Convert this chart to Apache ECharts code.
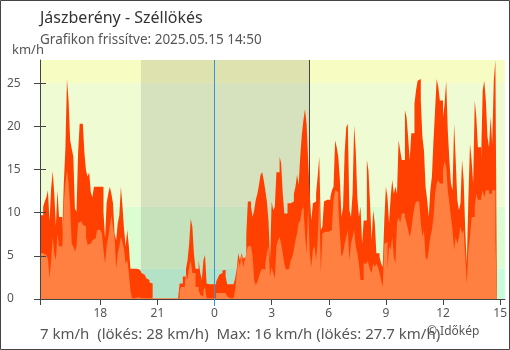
<!DOCTYPE html>
<html>
<head>
<meta charset="utf-8">
<script src="https://cdn.jsdelivr.net/npm/echarts@6/dist/echarts.min.js"></script>
<style>
  html, body { margin: 0; padding: 0; background: #fff; }
  #chart { width: 510px; height: 350px; }
</style>
</head>
<body>
<div id="chart"></div>
<script>
// Gust (lökés) readings, km/h, one every 5 minutes from 14:50 to 14:50 next day
const gust = [
  9.7,
  9.7, 9.7, 10.7, 11.3, 11.8, 12.6, 9.0, 12.8, 14.8, 12.2, 8.5, 12.6,
  9.5, 9.5,
  7.6, 13.4, 17.4, 25.5, 23.0, 18.4, 17.4, 16.5, 10.5, 10.1, 16.9, 20.3, 20.3, 20.3, 16.9, 14.9, 14.2, 14.7, 12.4, 11.8, 13.0, 13.0,
  13.0, 13.0,
  13.0, 13.0, 10.1, 7.0, 11.1, 12.2, 13.0, 12.2, 11.1, 7.6, 6.8, 8.8, 9.7, 13.0, 10.7, 8.0, 6.1, 8.0, 6.1, 3.5, 3.5,
  3.5, 3.5,
  3.5, 3.4, 3.2, 3.0, 2.8, 2.6, 2.4, 2.2, 1.9, 1.8,
  0, 0, 0, 0, 0, 0, 0, 0, 0, 0, 0, 0, 0, 0, 0, 0, 0,
  1.8, 1.8, 2.6, 2.6, 3.5, 4.5, 6.4, 9.3, 8.4, 5.3, 3.5, 3.5,
  4.5, 3.0, 2.2, 4.5, 5.1, 1.8, 1.7, 1.7, 1.7, 1.7, 1.7, 2.0, 2.4, 2.8, 3.0, 3.3, 3.4, 2.6,
  1.7, 1.7, 1.7, 1.7, 1.7, 2.4, 3.5, 5.3, 4.5, 5.3, 4.7, 4.9, 7.4, 11.3, 11.3, 10.7, 9.5, 10.3,
  11.5, 12.2, 13.2, 14.4, 14.7, 13.8, 12.6, 11.3, 9.1, 4.5, 11.3, 10.3, 10.7, 14.7, 14.7, 16.5,
  15.7, 12.2, 9.9, 9.9, 11.1, 11.1, 11.3, 11.3, 12.2, 13.0, 14.4, 13.2, 16.5, 19.0, 20.7, 22.0,
  20.3, 16.1, 12.2, 9.1, 11.1, 11.3, 12.2, 14.2, 16.5, 8.0, 8.4, 11.3, 11.5, 11.5, 11.5, 11.8,
  12.6, 13.0, 18.4, 17.6,
  16.5, 13.8, 9.5, 10.7, 16.9, 19.9, 20.3, 10.3, 9.5, 12.2, 20.1, 17.2, 11.8, 9.5, 10.7, 6.4,
  9.1, 9.1, 16.1, 14.9, 11.1, 6.8, 10.3, 8.8, 5.3, 5.3, 4.9, 4.1, 3.7, 9.1, 13.0, 11.8,
  8.8, 11.8, 13.8, 12.2, 13.0, 12.2, 18.4, 17.2, 16.1, 16.1, 21.9, 21.1, 18.8, 16.1, 19.2, 19.2,
  22.6, 24.2, 25.3, 25.5, 23.0, 18.8, 17.2, 13.0, 11.5, 9.5, 12.6, 14.2, 18.4, 21.9, 25.5, 24.6,
  23.0, 23.0, 21.1, 22.6, 25.3, 19.6, 16.1, 13.4, 12.6, 20.3, 16.1, 11.5, 10.3, 11.1, 16.1, 13.8,
  8.0, 4.1, 11.8, 18.0, 16.1, 13.4, 23.0, 21.1, 17.6, 17.6, 16.1, 24.2, 25.3, 23.0, 18.8, 17.6,
  21.1, 18.0, 25.3, 27.7
];

// Mean wind speed readings, km/h, same timestamps as gust
const wind = [
  5.3,
  5.3, 5.3, 5.3, 5.1, 4.9, 4.7, 2.4, 4.5, 7.2, 5.3, 4.5, 7.6,
  6.1, 6.1,
  5.5, 11.1, 13.4, 14.9, 13.4, 10.7, 6.4, 6.1, 5.5, 6.1, 8.8, 9.0, 8.8, 8.6, 8.4, 7.2, 6.3, 6.4, 6.6, 6.8, 7.0, 7.2,
  8.0, 8.0,
  7.8, 7.6, 5.7, 4.1, 6.1, 7.2, 8.4, 9.7, 8.4, 7.2, 3.5, 5.3, 6.1, 7.2, 6.6, 5.7, 4.1, 4.5, 3.0, 1.0, 0.1,
  0.1, 0.1,
  0.2, 0.1, 0.1, 0.1, 0.1, 0.1, 0.1, 0.1, 0.1, 0.1,
  0.1, 0.1, 0.1, 0.1, 0.1, 0.1, 0.1, 0.1, 0.1, 0.1, 0.1, 0.1, 0.1, 0.1, 0.1, 0.1, 0.1,
  1.0, 1.4, 1.4, 1.0, 3.0, 2.2, 3.7, 4.5, 3.0, 3.0, 1.4, 1.4,
  1.0, 0.5, 0.3, 1.0, 1.4, 0.1, 0.1, 0.1, 0.1, 0.1, 0.1, 0.7, 0.7, 0.7, 0.7, 0.7, 0.7, 0.5,
  0.3, 0.1, 0.1, 0.1, 0.1, 1.0, 3.0, 4.5, 3.7, 5.3, 3.7, 4.5, 5.3, 6.1, 6.1, 6.3, 4.9, 2.2,
  1.6, 2.0, 2.6, 3.2, 3.5, 3.4, 4.1, 5.3, 6.1, 2.6, 3.7, 3.0, 2.4, 6.1, 6.8, 7.2,
  6.4, 5.3, 4.1, 3.4, 3.5, 3.5, 4.5, 4.9, 5.7, 6.8, 7.6, 8.8, 9.1, 10.3, 10.7, 7.6,
  5.3, 10.7, 5.3, 3.7, 5.7, 6.1, 4.5, 6.8, 11.8, 3.0, 7.6, 7.8, 7.8, 7.8, 8.0, 8.0,
  8.4, 11.5, 12.6, 12.4,
  10.7, 7.6, 4.9, 5.3, 6.4, 7.2, 8.0, 4.5, 6.4, 7.2, 8.0, 6.1, 5.3, 4.1, 2.2, 2.2,
  4.1, 4.1, 4.5, 4.1, 3.4, 3.0, 4.1, 3.7, 4.1, 3.7, 3.0, 2.2, 1.4, 6.4, 6.6, 3.4,
  6.1, 5.7, 7.2, 4.9, 4.1, 8.8, 9.5, 8.8, 9.9, 9.9, 9.5, 8.8, 8.0, 7.2, 8.0, 9.5,
  10.7, 11.3, 11.3, 11.3, 8.8, 7.2, 8.0, 4.9, 4.5, 5.7, 7.2, 8.0, 9.5, 12.2, 13.4, 13.8,
  13.4, 13.4, 14.9, 16.0, 15.3, 12.6, 11.1, 9.5, 8.0, 5.7, 7.2, 6.4, 7.2, 8.4, 7.6, 8.0,
  4.9, 1.8, 5.7, 7.2, 9.5, 9.5, 10.7, 12.2, 11.5, 11.5, 11.8, 12.6, 11.8, 12.6, 12.6, 12.2,
  12.2, 12.6, 12.6, 7.0
];

// Time axis, in hours relative to midnight of 2025.05.15
const firstSampleHour = -(9 + 10 / 60);   // 14:50 the previous day
const stepMinutes = 5;
const axisMinHour = firstSampleHour;
const axisMaxHour = 15.25;
const hourTicks = [-6, -3, 0, 3, 6, 9, 12, 15];
const sunsetHour = -(3 + 52 / 60);        // 20:08
const sunriseHour = 4 + 59 / 60;          // 04:59

// Speed axis and the coloured speed bands behind the plot
const speedMax = 27.7;
const speedTicks = [0, 5, 10, 15, 20, 25];
const bandEdges = [0, 3.5, 10.7, 25, 27.7];
const bandColors = ['#c9fcdd', '#dcfcd2', '#effcd3', '#f7fcc2'];

const texts = {
  title: 'Jászberény - Széllökés',
  updated: 'Grafikon frissítve: 2025.05.15 14:50',
  unit: 'km/h',
  summary: '7 km/h  (lökés: 28 km/h)  Max: 16 km/h (lökés: 27.7 km/h)',
  credit: '© Időkép'
};

const FONT = '"Noto Sans", "Open Sans", sans-serif';

const toPairs = (arr) => arr.map((v, i) => [firstSampleHour + i * stepMinutes / 60, v]);
const hourLabel = (v) => String(((Math.round(v) % 24) + 24) % 24);

const bandAreas = bandColors.map((c, i) => [
  { yAxis: bandEdges[i], itemStyle: { color: c } },
  { yAxis: bandEdges[i + 1] }
]);
const nightArea = [
  { xAxis: sunsetHour, itemStyle: { color: 'rgba(0,0,0,0.1)' } },
  { xAxis: sunriseHour }
];

// text element whose top edge sits at y
const label = (x, y, text, size, color, z) => ({
  type: 'text', z: z || 100, silent: true, x: x, y: y,
  style: { text: text, font: size + 'px ' + FONT, fill: color, verticalAlign: 'top' }
});

const chart = echarts.init(document.getElementById('chart'), null, { renderer: 'canvas' });

chart.setOption({
  animation: false,
  grid: { left: 40, right: 2, top: 60, bottom: 51, containLabel: false },
  xAxis: [
    {
      type: 'value', min: axisMinHour, max: axisMaxHour, z: 10,
      axisLine: { show: true, onZero: false, lineStyle: { color: '#444', width: 1 } },
      axisTick: { show: true, length: 6, customValues: [axisMinHour].concat(hourTicks),
                  lineStyle: { color: '#444', width: 1 } },
      axisLabel: { customValues: hourTicks, formatter: hourLabel, color: '#555',
                   fontSize: 12, fontFamily: FONT, margin: 9 },
      splitLine: { show: false }
    },
    {
      // blue tick under the midnight line
      type: 'value', min: axisMinHour, max: axisMaxHour, position: 'bottom', z: 11,
      axisLine: { show: false, onZero: false },
      axisTick: { show: true, length: 7, customValues: [0], lineStyle: { color: '#2f97dc', width: 1 } },
      axisLabel: { show: false },
      splitLine: { show: false }
    }
  ],
  yAxis: [
    {
      type: 'value', min: 0, max: speedMax, z: 10, position: 'left',
      axisLine: { show: true, onZero: false, lineStyle: { color: '#444', width: 1 } },
      axisTick: { show: true, length: 6, customValues: speedTicks, lineStyle: { color: '#444' } },
      axisLabel: { customValues: speedTicks, color: '#555', fontSize: 12, fontFamily: FONT,
                   align: 'left', margin: 33 },
      splitLine: { show: false }
    },
    {
      // inner half of the crossing ticks
      type: 'value', min: 0, max: speedMax, position: 'left', z: 10,
      axisLine: { show: false, onZero: false },
      axisTick: { show: true, inside: true, length: 6, customValues: speedTicks, lineStyle: { color: '#444' } },
      axisLabel: { show: false },
      splitLine: { show: false }
    }
  ],
  series: [
    {
      name: 'lökés', type: 'line', step: 'start', z: 3,
      xAxisIndex: 0, yAxisIndex: 0,
      data: toPairs(gust),
      symbol: 'none', showSymbol: false, sampling: null,
      lineStyle: { width: 0, opacity: 0 },
      areaStyle: { color: '#ff4000', opacity: 1 },
      markArea: { silent: true, z: 1, data: bandAreas.concat([nightArea]) },
      markLine: {
        silent: true, z: 1, symbol: 'none', label: { show: false },
        lineStyle: { color: '#444', width: 1, type: 'solid' },
        data: [{ xAxis: sunriseHour }]
      }
    },
    {
      name: 'szél', type: 'line', step: 'start', z: 4,
      xAxisIndex: 0, yAxisIndex: 0,
      data: toPairs(wind),
      symbol: 'none', showSymbol: false, sampling: null,
      lineStyle: { width: 0, opacity: 0 },
      areaStyle: { color: '#ff8040', opacity: 1 },
      markLine: {
        silent: true, z: 8, symbol: 'none', label: { show: false },
        lineStyle: { color: '#2f97dc', width: 1, type: 'solid' },
        data: [{ xAxis: 0 }]
      }
    }
  ],
  graphic: [
    { type: 'rect', z: 100, silent: true,
      shape: { x: 0.5, y: 0.5, width: 509, height: 349 },
      style: { fill: null, stroke: '#444', lineWidth: 1 } },
    label(40, 10, texts.title, 16, '#333'),
    label(40, 33, texts.updated, 13.5, '#555'),
    label(12, 44, texts.unit, 13, '#555'),
    label(40, 327, texts.summary, 15, '#555'),
    label(427, 326, texts.credit, 12, '#555', 101)
  ]
});
</script>
</body>
</html>
